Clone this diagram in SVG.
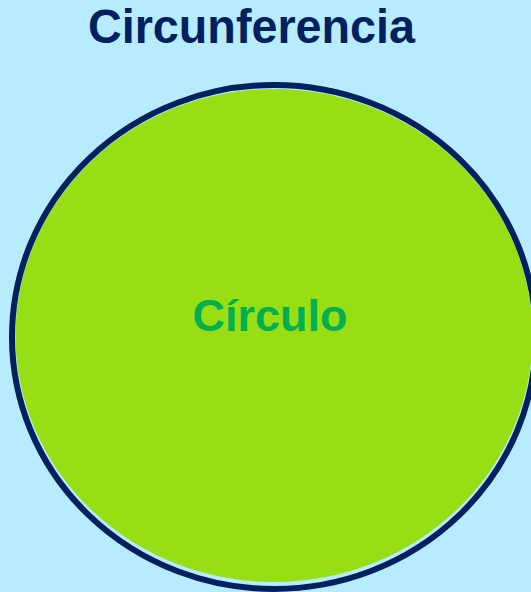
<svg xmlns="http://www.w3.org/2000/svg" width="531" height="592" viewBox="0 0 531 592">
<style>
.title{font-family:"Liberation Sans",Arial,sans-serif;font-weight:bold;fill:#002060;}
.label{font-family:"Liberation Sans",Arial,sans-serif;font-weight:bold;fill:#00B050;}
</style>
<rect x="0" y="0" width="531" height="592" fill="#B7ECFE"/>
<text class="title" x="251.5" y="42.5" font-size="48" text-anchor="middle" textLength="327" lengthAdjust="spacingAndGlyphs">Circunferencia</text>
<g id="circulo">
<ellipse cx="274" cy="335.5" rx="258.5" ry="246.5" fill="#97DF14"/>
<ellipse cx="274" cy="337" rx="262" ry="252" fill="none" stroke="#002060" stroke-width="6"/>
<text class="label" x="270" y="331" font-size="45" text-anchor="middle">Círculo</text>
</g>
</svg>
